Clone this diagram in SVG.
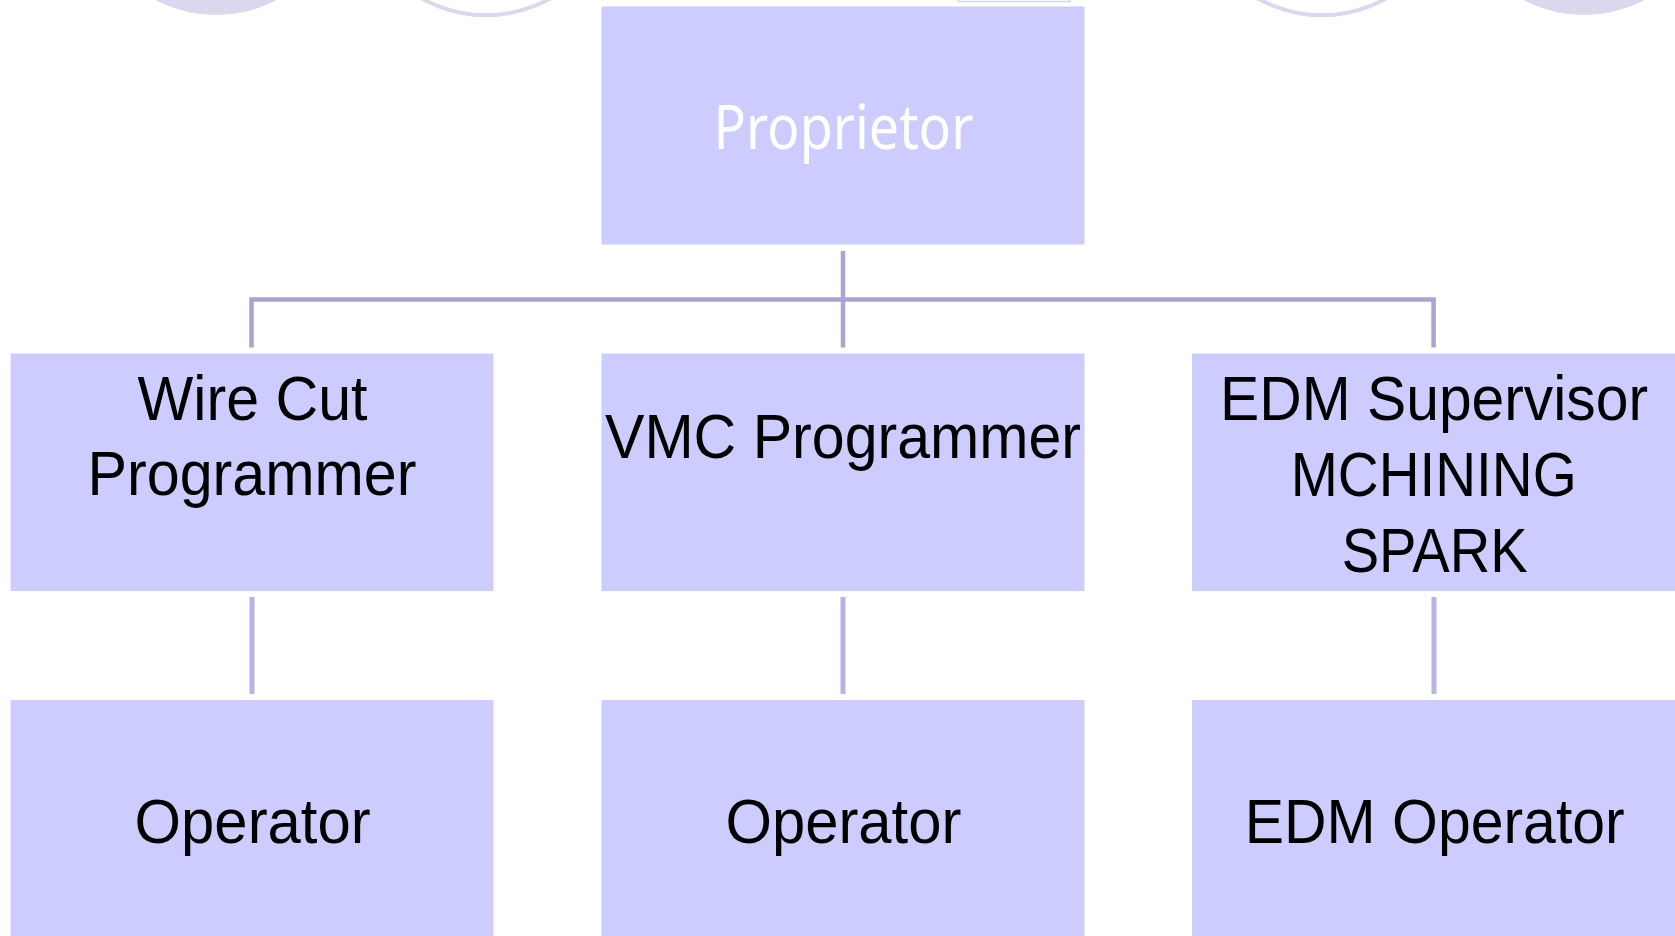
<svg xmlns="http://www.w3.org/2000/svg" width="1675" height="936" viewBox="0 0 1675 936">
<style>
.box{fill:#CCCCFF;}
.lbl{font-family:"Liberation Sans","Noto Sans",Arial,sans-serif;font-size:63px;fill:#000;text-anchor:middle;}
.lblw{font-family:"Noto Sans","Liberation Sans",sans-serif;font-size:62px;fill:#FFFFFF;text-anchor:middle;}
.c1{fill:none;stroke:#A6A6D0;stroke-width:4.5;}
.c2{fill:none;stroke:#B5B5E6;stroke-width:5;}
.deco{fill:#DAD8EC;}
.ring{fill:none;stroke:#DAD8EC;stroke-width:4;}
</style>
<rect x="0" y="0" width="1675" height="936" fill="#FFFFFF"/>
<g id="decor">
<circle class="deco" cx="216" cy="-115" r="130"/>
<circle class="ring" cx="486" cy="-114.7" r="130"/>
<circle class="ring" cx="1322" cy="-114.7" r="130"/>
<circle class="deco" cx="1584" cy="-115" r="130"/>
<rect x="958" y="-20" width="112" height="21.5" fill="#FFFFFF" stroke="#D4D4EE" stroke-width="1.5"/>
</g>
<g id="connectors">
<path class="c1" d="M843 251 V347.5"/>
<path class="c1" d="M251.5 347.5 V299.5 H1433.6 V347.5"/>
<path class="c2" d="M252 597 V694"/>
<path class="c2" d="M843 597 V694"/>
<path class="c2" d="M1434 597 V694"/>
</g>
<g id="proprietor">
<rect class="box" x="601.5" y="6.5" width="483" height="238"/>
<text class="lblw" x="843.4" y="149" textLength="260" lengthAdjust="spacingAndGlyphs">Proprietor</text>
</g>
<g id="wirecut">
<rect class="box" x="10.5" y="353.5" width="483" height="237.5"/>
<text class="lbl" x="252.5" y="419.5" textLength="230" lengthAdjust="spacingAndGlyphs">Wire Cut</text>
<text class="lbl" x="252" y="494.6" textLength="329" lengthAdjust="spacingAndGlyphs">Programmer</text>
</g>
<g id="vmc">
<rect class="box" x="601.5" y="353.5" width="483" height="237.5"/>
<text class="lbl" x="843" y="458.3" textLength="476" lengthAdjust="spacingAndGlyphs">VMC Programmer</text>
</g>
<g id="edm">
<rect class="box" x="1192" y="353.5" width="483" height="237.5"/>
<text class="lbl" x="1434" y="419.8" textLength="428" lengthAdjust="spacingAndGlyphs">EDM Supervisor</text>
<text class="lbl" x="1433.7" y="495.7" textLength="286" lengthAdjust="spacingAndGlyphs">MCHINING</text>
<text class="lbl" x="1434.7" y="571.5" textLength="186" lengthAdjust="spacingAndGlyphs">SPARK</text>
</g>
<g id="operator1">
<rect class="box" x="10.5" y="700" width="483" height="240"/>
<text class="lbl" x="252.6" y="842.5" textLength="236" lengthAdjust="spacingAndGlyphs">Operator</text>
</g>
<g id="operator2">
<rect class="box" x="601.5" y="700" width="483" height="240"/>
<text class="lbl" x="843.4" y="842.5" textLength="236" lengthAdjust="spacingAndGlyphs">Operator</text>
</g>
<g id="edmoperator">
<rect class="box" x="1192" y="700" width="483" height="240"/>
<text class="lbl" x="1434.7" y="842.5" textLength="380" lengthAdjust="spacingAndGlyphs">EDM Operator</text>
</g>
</svg>
